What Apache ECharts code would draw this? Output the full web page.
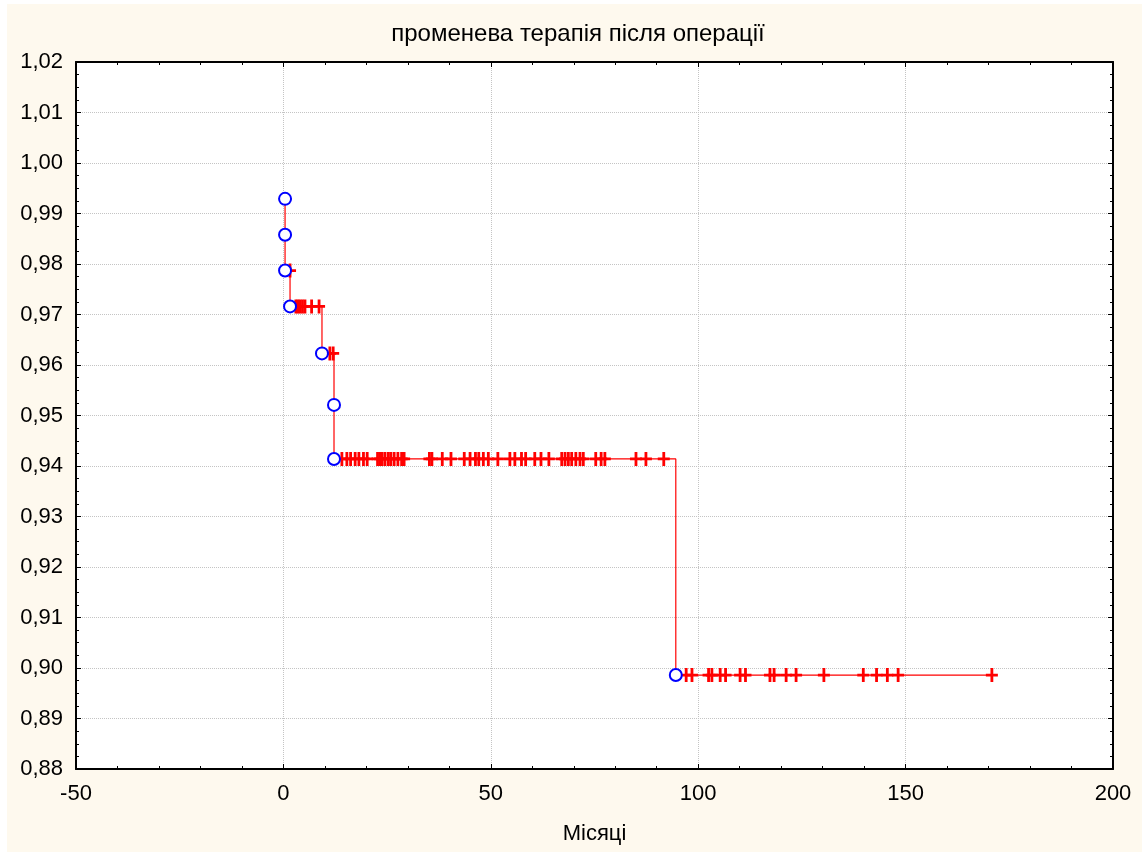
<!DOCTYPE html>
<html><head><meta charset="utf-8">
<script src="https://cdn.jsdelivr.net/npm/echarts@6/dist/echarts.min.js"></script>
<style>html,body{margin:0;padding:0;background:#fff}#c{position:absolute;left:7px;top:4px;width:1135px;height:848px;background:#FEF9EE}</style>
</head><body><div id="c"></div><script>
// Kaplan-Meier events (complete observations)
const eventTimes = [0.4, 0.4, 0.4, 1.6, 9.3, 12.2, 12.2, 94.6];
const eventSurv  = [0.9929, 0.9858, 0.9787, 0.9716, 0.9623, 0.9521, 0.9414, 0.8986];
const lastTime = 171;
// Censored observations: times and the survival level where they are drawn
const censTimes = [1.6, 3.0, 3.5, 4.0, 4.6, 5.2, 6.8, 8.6,
  11.2, 12.0,
  14.1, 15.3, 16.2, 17.3, 18.2, 19.3, 20.2, 22.7, 23.3, 23.8, 24.5, 25.3, 25.9, 26.7, 27.6, 28.5, 29.1,
  35.2, 35.8, 38.3, 40.4, 43.6, 45.0, 46.3, 47.1, 48.2, 49.4, 51.7, 54.6, 55.8, 57.4, 58.4, 60.6, 62.1, 64.0,
  67.1, 67.9, 68.7, 69.5, 70.5, 71.5, 72.3, 75.3, 76.6, 77.5, 85.0, 87.4, 91.7,
  97.1, 98.5, 102.5, 103.3, 105.3, 106.6, 110.1, 111.4, 117.3, 118.3, 121.2, 123.6, 130.3,
  139.8, 143.0, 145.6, 148.2, 170.8];
const censSurv = [0.9787, 0.9716, 0.9716, 0.9716, 0.9716, 0.9716, 0.9716, 0.9716,
  0.9623, 0.9623,
  0.9414, 0.9414, 0.9414, 0.9414, 0.9414, 0.9414, 0.9414, 0.9414, 0.9414, 0.9414, 0.9414, 0.9414, 0.9414, 0.9414, 0.9414, 0.9414, 0.9414,
  0.9414, 0.9414, 0.9414, 0.9414, 0.9414, 0.9414, 0.9414, 0.9414, 0.9414, 0.9414, 0.9414, 0.9414, 0.9414, 0.9414, 0.9414, 0.9414, 0.9414, 0.9414,
  0.9414, 0.9414, 0.9414, 0.9414, 0.9414, 0.9414, 0.9414, 0.9414, 0.9414, 0.9414, 0.9414, 0.9414, 0.9414,
  0.8986, 0.8986, 0.8986, 0.8986, 0.8986, 0.8986, 0.8986, 0.8986, 0.8986, 0.8986, 0.8986, 0.8986, 0.8986,
  0.8986, 0.8986, 0.8986, 0.8986, 0.8986];
const xMin = -50, xMax = 200, xStep = 50;
const yMin = 0.88, yMax = 1.02, yStep = 0.01;
const titleText = 'променева терапія після операції';
const xName = 'Місяці';

const stepData = eventTimes.map((t, i) => [t, eventSurv[i]]);
stepData.push([lastTime, eventSurv[eventSurv.length - 1]]);
const eventData = eventTimes.map((t, i) => [t, eventSurv[i]]);
const censData = censTimes.map((t, i) => [t, censSurv[i]]);

const FONT = 'Liberation Sans, Arial, sans-serif';
const lbl = {color: '#000', fontFamily: FONT, fontSize: 22};
const baseX = {
  type: 'value', min: xMin, max: xMax, interval: xStep,
  axisLine: {show: true, onZero: false, lineStyle: {color: '#000', width: 2}},
  axisTick: {show: true, inside: true, length: 5, lineStyle: {color: '#000', width: 1}},
  minorTick: {show: true, splitNumber: 5, length: 3, lineStyle: {color: '#000', width: 1}}
};
const baseY = {
  type: 'value', min: yMin, max: yMax, interval: yStep,
  axisLine: {show: true, onZero: false, lineStyle: {color: '#000', width: 2}},
  axisTick: {show: true, inside: true, length: 5, lineStyle: {color: '#000', width: 1}},
  minorTick: {show: true, splitNumber: 4, length: 3, lineStyle: {color: '#000', width: 1}}
};
const chart = echarts.init(document.getElementById('c'), null, {renderer: 'canvas'});
chart.setOption({
  animation: false,
  backgroundColor: 'transparent',
  title: {text: titleText, left: 566, top: 13, textAlign: 'center',
    textStyle: {color: '#000', fontFamily: FONT, fontSize: 24, fontWeight: 'normal'}},
  grid: {left: 69, top: 58, right: 29, bottom: 83, show: true, backgroundColor: '#fff', borderWidth: 0},
  xAxis: [
    Object.assign({}, baseX, {position: 'bottom',
      name: xName, nameLocation: 'middle', nameGap: 54, nameTextStyle: lbl,
      axisLabel: Object.assign({margin: 14}, lbl),
      splitLine: {show: true, lineStyle: {color: '#c4c4c4', type: 'dotted', width: 1}}}),
    Object.assign({}, baseX, {position: 'top', axisLabel: {show: false}, splitLine: {show: false}})
  ],
  yAxis: [
    Object.assign({}, baseY, {position: 'left',
      axisLabel: Object.assign({margin: 13, formatter: v => v.toFixed(2).replace('.', ',')}, lbl),
      splitLine: {show: true, lineStyle: {color: '#c4c4c4', type: 'dotted', width: 1}}}),
    Object.assign({}, baseY, {position: 'right', axisLabel: {show: false}, splitLine: {show: false}})
  ],
  series: [
    {type: 'line', step: 'end', data: stepData, symbol: 'none', silent: true,
      lineStyle: {color: '#ff0000', width: 1.2}, z: 2},
    {type: 'scatter', data: censData, silent: true,
      symbol: 'path://M4.6,0 h2.8 v5.6 h4.6 v2.8 h-4.6 v5.6 h-2.8 v-5.6 h-4.6 v-2.8 h4.6 z',
      symbolSize: [12, 14], itemStyle: {color: '#ff0000', opacity: 1}, z: 3},
    {type: 'scatter', data: eventData, silent: true, symbol: 'circle', symbolSize: 12,
      itemStyle: {color: '#fff', borderColor: '#0000ff', borderWidth: 2, opacity: 1}, z: 4}
  ]
});
</script></body></html>
